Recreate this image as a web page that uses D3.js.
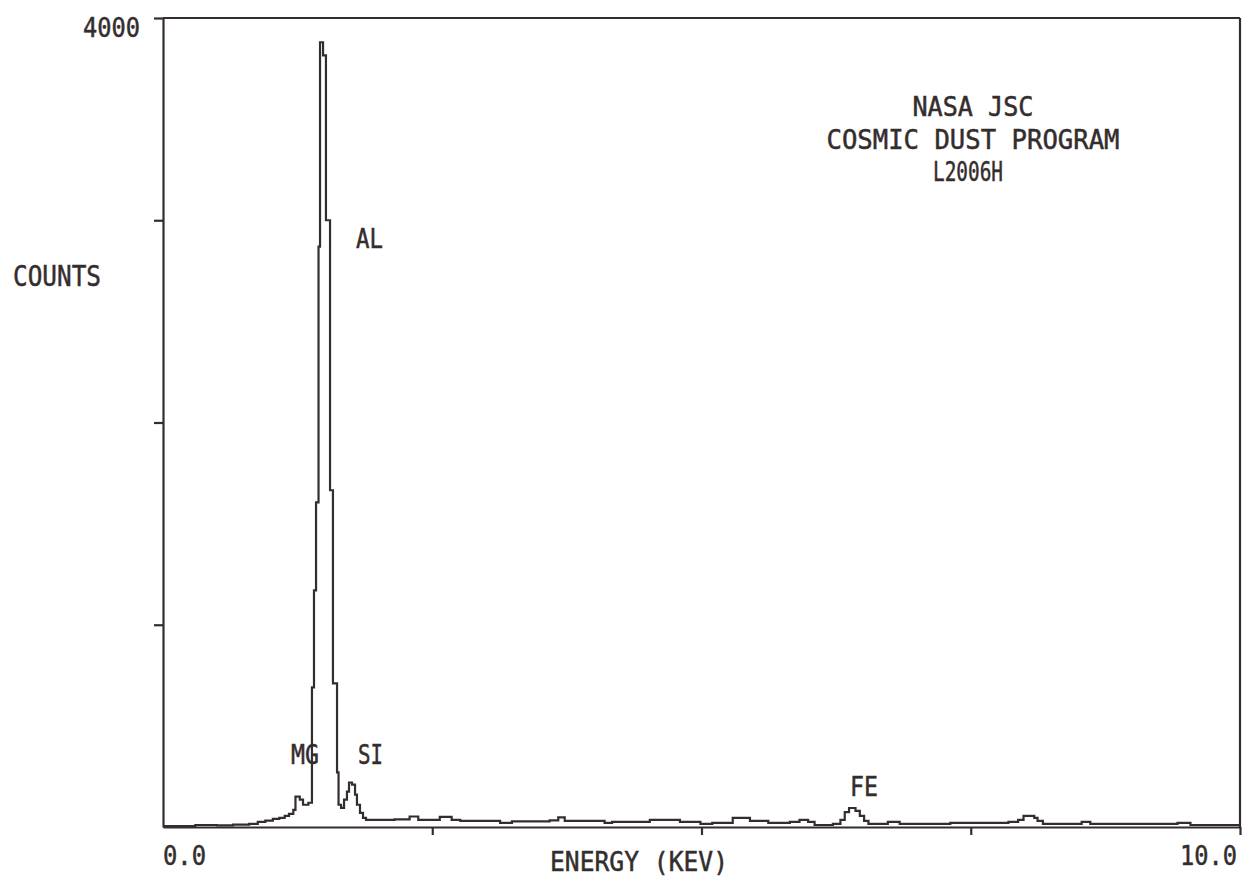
<!DOCTYPE html>
<html>
<head>
<meta charset="utf-8">
<script src="https://cdn.jsdelivr.net/npm/d3@7"></script>
<style>
  html, body { margin: 0; padding: 0; background: #ffffff; }
  svg { display: block; }
  text { font-family: "DejaVu Sans Mono", "Liberation Mono", monospace; fill: #342d2d; stroke: #342d2d; stroke-width: 0.5; }
</style>
</head>
<body>
<div id="chart"></div>
<script>
// EDS spectrum (energy in keV, counts); drawn as a step trace
const energyKeV = [
  0.00, 0.15, 0.30, 0.50, 0.65, 0.80, 0.88, 0.95, 1.02, 1.08,
  1.13, 1.17, 1.21, 1.23, 1.27, 1.30, 1.35, 1.383, 1.402, 1.421,
  1.444, 1.458, 1.486, 1.513, 1.551, 1.578, 1.616, 1.630, 1.653, 1.681,
  1.708, 1.727, 1.755, 1.783, 1.801, 1.829, 1.857, 1.885, 2.01, 2.15,
  2.29, 2.37, 2.57, 2.68, 2.76, 3.13, 3.24, 3.59, 3.67, 3.73,
  4.10, 4.17, 4.52, 4.80, 4.99, 5.10, 5.29, 5.45, 5.62, 5.82,
  5.91, 5.99, 6.05, 6.22, 6.29, 6.33, 6.37, 6.43, 6.47, 6.51,
  6.55, 6.73, 6.84, 7.31, 7.85, 7.94, 7.99, 8.09, 8.12, 8.17,
  8.53, 8.61, 9.42, 9.54, 10.0
];
const counts = [
  5, 5, 10, 8, 12, 15, 25, 32, 40, 45,
  55, 65, 85, 150, 135, 110, 120, 690, 1170, 1605,
  2870, 3880, 3815, 3000, 1665, 710, 270, 110, 95, 135,
  175, 220, 210, 160, 110, 70, 45, 35, 35, 38,
  52, 35, 50, 35, 30, 20, 28, 33, 48, 30,
  20, 25, 35, 25, 15, 20, 45, 30, 20, 25,
  35, 25, 10, 15, 35, 74, 94, 80, 55, 30,
  15, 25, 15, 20, 25, 35, 55, 45, 30, 15,
  25, 15, 20, 10, 10
];

const countTicks = [1000, 2000, 3000, 4000];
const energyTicks = [2.5, 5.0, 7.5, 10.0];
const energyLabels = ["0.0", "10.0"];

const peakNames = ["MG", "AL", "SI", "FE"];
const titleLines = ["NASA JSC", "COSMIC DUST PROGRAM", "L2006H"];

const ink = "#342d2d";
const width = 1244;
const height = 881;

const x = d3.scaleLinear().domain([0, 10]).range([163, 1240]);
const y = d3.scaleLinear().domain([0, 4000]).range([827, 18]);

const svg = d3.select("#chart")
  .append("svg")
  .attr("width", width)
  .attr("height", height);

svg.append("rect").attr("width", width).attr("height", height).attr("fill", "#ffffff");

// frame: top edge and right edge
svg.append("line")
  .attr("x1", x(0)).attr("x2", x(10))
  .attr("y1", y(4000)).attr("y2", y(4000))
  .attr("stroke", ink).attr("stroke-width", 2.2);
svg.append("line")
  .attr("x1", x(10)).attr("x2", x(10))
  .attr("y1", y(4000)).attr("y2", y(0))
  .attr("stroke", ink).attr("stroke-width", 2.2);

const yAxis = svg.append("g")
  .attr("transform", `translate(${x(0)},0)`)
  .call(d3.axisLeft(y).tickValues(countTicks).tickSize(9).tickSizeOuter(0).tickFormat(""));

const xAxis = svg.append("g")
  .attr("transform", `translate(0,${y(0)})`)
  .call(d3.axisBottom(x).tickValues(energyTicks).tickSize(8).tickSizeOuter(0).tickFormat(""));

[yAxis, xAxis].forEach((g) => {
  g.selectAll("path, line").attr("stroke", ink).attr("stroke-width", 2.2);
});

// spectrum trace
const spectrum = energyKeV.map((e, i) => [e, counts[i]]);

svg.append("path")
  .datum(spectrum)
  .attr("fill", "none")
  .attr("stroke", ink)
  .attr("stroke-width", 2.2)
  .attr("stroke-linejoin", "miter")
  .attr("d", d3.line()
    .x((d) => x(d[0]))
    .y((d) => y(d[1]))
    .curve(d3.curveStepAfter));

function label(text, px, py, len, anchor, size) {
  svg.append("text")
    .attr("x", px)
    .attr("y", py)
    .attr("text-anchor", anchor || "start")
    .attr("font-size", size || 27)
    .attr("textLength", len)
    .attr("lengthAdjust", "spacingAndGlyphs")
    .text(text);
}

// axis texts
label(String(countTicks[3]), 83, 37, 57);
label("COUNTS", 13, 286, 88, "start", 29);
label(energyLabels[0], x(0), 865, 43);
label(energyLabels[1], 1180, 865, 57);
label("ENERGY (KEV)", 550, 871, 178);

// element labels
label(peakNames[0], 291, 764, 28);
label(peakNames[1], 356, 248, 27);
label(peakNames[2], 358, 764, 25);
label(peakNames[3], 850, 796, 28);

// title block
label(titleLines[0], 973, 116, 121, "middle");
label(titleLines[1], 973, 149, 293, "middle");
label(titleLines[2], 968, 181, 70, "middle");
</script>
</body>
</html>
